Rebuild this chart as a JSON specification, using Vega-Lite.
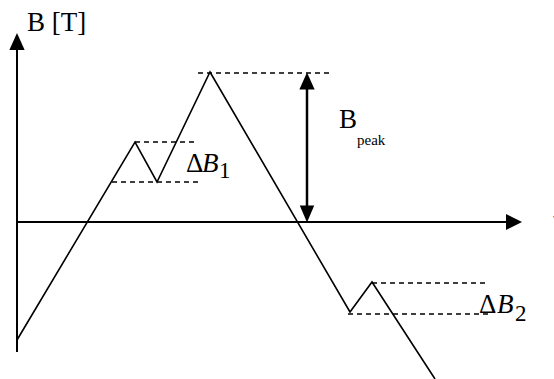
{
  "$schema": "https://vega.github.io/schema/vega-lite/v6.json",
  "width": 554,
  "height": 379,
  "padding": 0,
  "autosize": "none",
  "background": "white",
  "config": {"view": {"stroke": null}},
  "datasets": {
    "axes": [
      {"x1": 17, "y1": 352, "x2": 17, "y2": 46},
      {"x1": 17, "y1": 222, "x2": 510, "y2": 222}
    ],
    "peakShaft": [
      {"x1": 307, "y1": 86, "x2": 307, "y2": 210}
    ],
    "curve": [
      {"step": 0, "x": 17, "y": 340},
      {"step": 1, "x": 135, "y": 142},
      {"step": 2, "x": 157, "y": 182},
      {"step": 3, "x": 210, "y": 72},
      {"step": 4, "x": 350, "y": 312},
      {"step": 5, "x": 372, "y": 282},
      {"step": 6, "x": 435, "y": 379}
    ],
    "levels": [
      {"x1": 135, "x2": 198, "y": 142},
      {"x1": 112, "x2": 200, "y": 182},
      {"x1": 198, "x2": 332, "y": 73},
      {"x1": 372, "x2": 487, "y": 283},
      {"x1": 348, "x2": 490, "y": 314}
    ],
    "headsUp": [
      {"x": 17, "y": 41.5},
      {"x": 307, "y": 81}
    ],
    "headsDown": [
      {"x": 307, "y": 214}
    ],
    "headsRight": [
      {"x": 514, "y": 222}
    ],
    "labels": [
      {"x": 27, "y": 31, "text": "B [T]"},
      {"x": 339, "y": 128, "text": "B"},
      {"x": 186, "y": 172, "text": "Δ"},
      {"x": 479, "y": 313, "text": "Δ"},
      {"x": 553, "y": 229, "text": "t"}
    ],
    "italicLabels": [
      {"x": 202, "y": 172, "text": "B"},
      {"x": 497, "y": 313, "text": "B"}
    ],
    "subLabels": [
      {"x": 219, "y": 178, "text": "1"},
      {"x": 515, "y": 321, "text": "2"}
    ],
    "smallLabels": [
      {"x": 357, "y": 145, "text": "peak"}
    ]
  },
  "encoding": {
    "x": {"field": "x", "type": "quantitative", "scale": {"domain": [0, 554]}, "axis": null},
    "y": {"field": "y", "type": "quantitative", "scale": {"domain": [379, 0]}, "axis": null}
  },
  "layer": [
    {
      "data": {"name": "axes"},
      "mark": {"type": "rule", "color": "black", "strokeWidth": 2},
      "encoding": {
        "x": {"field": "x1", "type": "quantitative", "scale": {"domain": [0, 554]}, "axis": null},
        "y": {"field": "y1", "type": "quantitative", "scale": {"domain": [379, 0]}, "axis": null},
        "x2": {"field": "x2"},
        "y2": {"field": "y2"}
      }
    },
    {
      "data": {"name": "peakShaft"},
      "mark": {"type": "rule", "color": "black", "strokeWidth": 2.5},
      "encoding": {
        "x": {"field": "x1", "type": "quantitative", "scale": {"domain": [0, 554]}, "axis": null},
        "y": {"field": "y1", "type": "quantitative", "scale": {"domain": [379, 0]}, "axis": null},
        "x2": {"field": "x2"},
        "y2": {"field": "y2"}
      }
    },
    {
      "data": {"name": "levels"},
      "mark": {"type": "rule", "color": "black", "strokeWidth": 1.5, "strokeDash": [5, 4]},
      "encoding": {
        "x": {"field": "x1", "type": "quantitative", "scale": {"domain": [0, 554]}, "axis": null},
        "x2": {"field": "x2"}
      }
    },
    {
      "data": {"name": "curve"},
      "mark": {"type": "line", "color": "black", "strokeWidth": 1.6, "clip": true},
      "encoding": {
        "order": {"field": "step", "type": "quantitative"}
      }
    },
    {
      "data": {"name": "headsUp"},
      "mark": {"type": "point", "shape": "M0,-1L0.9,1L-0.9,1Z", "size": 289, "filled": true, "color": "black", "opacity": 1}
    },
    {
      "data": {"name": "headsDown"},
      "mark": {"type": "point", "shape": "M0,1L0.85,-1L-0.85,-1Z", "size": 289, "filled": true, "color": "black", "opacity": 1}
    },
    {
      "data": {"name": "headsRight"},
      "mark": {"type": "point", "shape": "M1,0L-1,-1L-1,1Z", "size": 256, "filled": true, "color": "black", "opacity": 1}
    },
    {
      "data": {"name": "labels"},
      "mark": {"type": "text", "font": "Liberation Serif", "fontSize": 27, "align": "left", "baseline": "alphabetic", "color": "black"},
      "encoding": {"text": {"field": "text"}}
    },
    {
      "data": {"name": "italicLabels"},
      "mark": {"type": "text", "font": "Liberation Serif", "fontStyle": "italic", "fontSize": 27, "align": "left", "baseline": "alphabetic", "color": "black"},
      "encoding": {"text": {"field": "text"}}
    },
    {
      "data": {"name": "subLabels"},
      "mark": {"type": "text", "font": "Liberation Serif", "fontSize": 23, "align": "left", "baseline": "alphabetic", "color": "black"},
      "encoding": {"text": {"field": "text"}}
    },
    {
      "data": {"name": "smallLabels"},
      "mark": {"type": "text", "font": "Liberation Serif", "fontSize": 15, "align": "left", "baseline": "alphabetic", "color": "black"},
      "encoding": {"text": {"field": "text"}}
    }
  ]
}
